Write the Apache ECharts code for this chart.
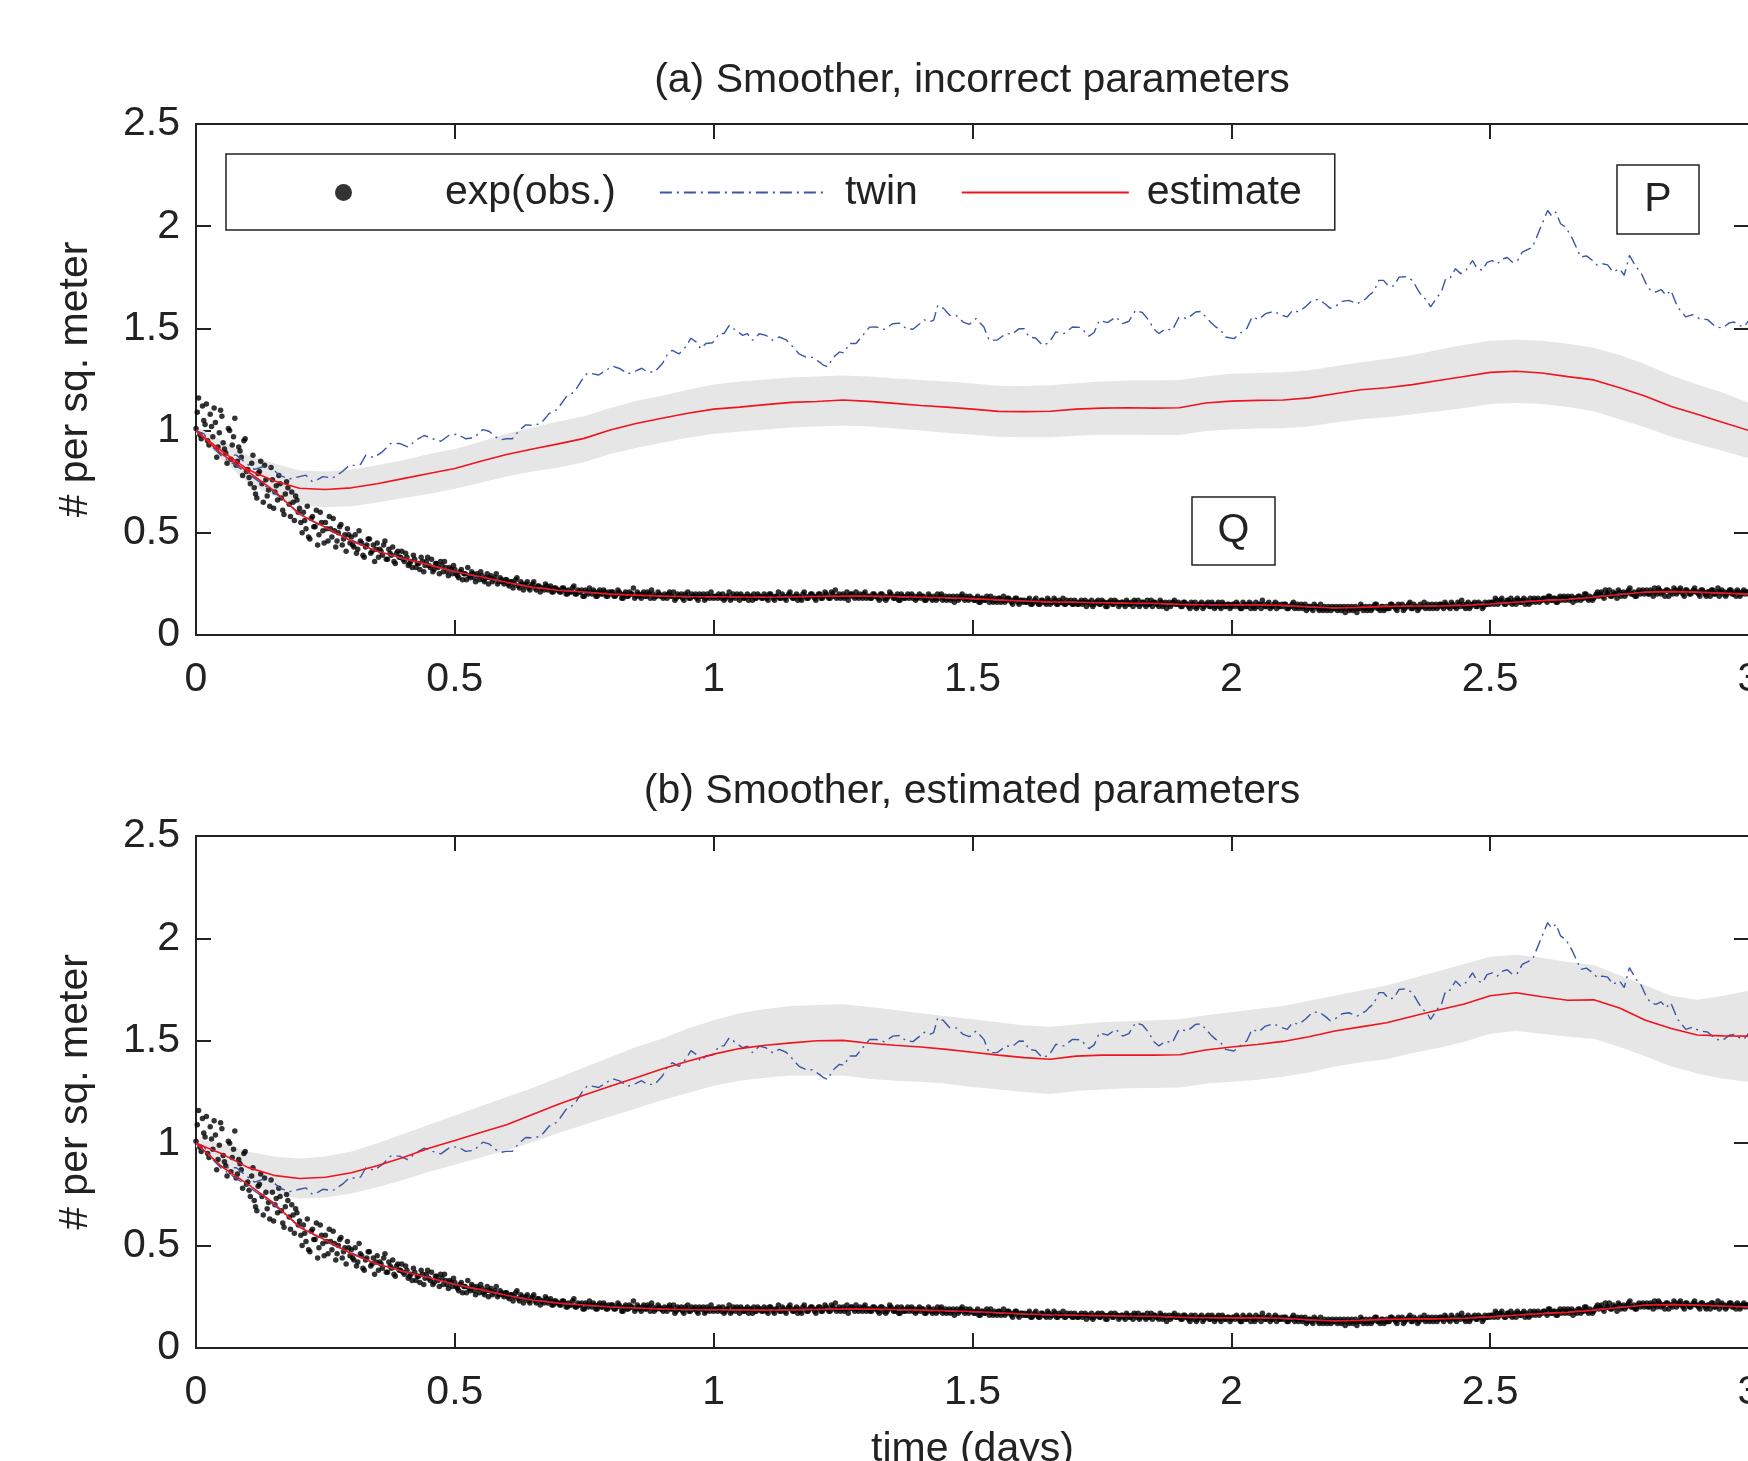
<!DOCTYPE html>
<html><head><meta charset="utf-8">
<script src="https://cdn.jsdelivr.net/npm/echarts@6/dist/echarts.min.js"></script>
<style>html,body{margin:0;padding:0;background:#fff}#c{width:1748px;height:1461px}</style>
</head><body><div id="c"></div>
<script>
// ---------- data ----------
const titleA = '(a) Smoother, incorrect parameters';
const titleB = '(b) Smoother, estimated parameters';
const yName = '# per sq. meter';
const xName = 'time (days)';
const legendNames = ['exp(obs.)', 'twin', 'estimate'];

// observations: obsA at t = i*OBS_DT, obsB at t = (i+0.5)*OBS_DT
const OBS_DT = 0.005;
const obsA = [
1.01,1.16,0.96,1.05,1.13,0.93,1.02,1.11,0.87,0.99,1.07,0.91,0.84,1.00,0.93,1.06,0.85,0.90,0.78,0.96,
0.81,0.74,0.88,0.69,0.79,0.85,0.65,0.76,0.71,0.82,0.62,0.73,0.78,0.67,0.59,0.75,0.64,0.70,0.56,0.66,
0.62,0.50,0.56,0.63,0.47,0.58,0.53,0.44,0.60,0.51,0.55,0.46,0.52,0.57,0.43,0.50,0.54,0.47,0.41,0.49,
0.48,0.43,0.40,0.51,0.45,0.38,0.44,0.47,0.41,0.36,0.45,0.42,0.39,0.46,0.37,0.40,0.43,0.35,0.41,0.38,
0.37,0.40,0.34,0.36,0.39,0.33,0.35,0.38,0.31,0.36,0.34,0.37,0.32,0.35,0.30,0.34,0.36,0.31,0.33,0.30,
0.32,0.29,0.31,0.27,0.30,0.33,0.28,0.30,0.26,0.29,0.31,0.27,0.28,0.25,0.29,0.27,0.30,0.26,0.27,0.25,
0.27,0.24,0.26,0.25,0.28,0.23,0.25,0.24,0.26,0.22,0.25,0.23,0.24,0.21,0.23,0.25,0.22,0.24,0.21,0.23,
0.22,0.21,0.23,0.20,0.22,0.21,0.24,0.20,0.21,0.22,0.19,0.21,0.23,0.20,0.21,0.19,0.22,0.20,0.21,0.19,
0.20,0.21,0.19,0.22,0.20,0.18,0.21,0.19,0.20,0.23,0.19,0.20,0.18,0.21,0.19,0.20,0.22,0.18,0.19,0.20,
0.19,0.20,0.18,0.21,0.19,0.17,0.20,0.19,0.18,0.20,0.21,0.18,0.19,0.20,0.17,0.19,0.20,0.18,0.19,0.21,
0.18,0.19,0.20,0.18,0.17,0.19,0.21,0.18,0.19,0.20,0.17,0.19,0.18,0.20,0.19,0.17,0.18,0.20,0.19,0.18,
0.19,0.17,0.20,0.18,0.19,0.21,0.18,0.19,0.17,0.20,0.19,0.18,0.20,0.19,0.17,0.21,0.18,0.19,0.20,0.18,
0.19,0.20,0.18,0.21,0.19,0.18,0.20,0.22,0.19,0.18,0.20,0.19,0.17,0.20,0.19,0.21,0.18,0.19,0.20,0.18,
0.19,0.18,0.20,0.19,0.17,0.20,0.19,0.18,0.21,0.19,0.18,0.20,0.17,0.19,0.18,0.20,0.19,0.18,0.17,0.19,
0.18,0.19,0.17,0.20,0.18,0.19,0.17,0.18,0.20,0.18,0.17,0.19,0.18,0.16,0.19,0.18,0.20,0.17,0.18,0.19,
0.18,0.17,0.19,0.16,0.18,0.17,0.18,0.19,0.16,0.17,0.18,0.16,0.19,0.17,0.18,0.16,0.17,0.18,0.15,0.17,
0.17,0.16,0.18,0.15,0.17,0.16,0.15,0.17,0.16,0.18,0.15,0.16,0.17,0.15,0.16,0.18,0.15,0.16,0.17,0.15,
0.16,0.15,0.17,0.16,0.14,0.16,0.17,0.15,0.16,0.15,0.17,0.16,0.14,0.16,0.15,0.17,0.16,0.15,0.16,0.14,
0.16,0.15,0.14,0.16,0.17,0.15,0.16,0.14,0.15,0.17,0.16,0.15,0.14,0.16,0.15,0.13,0.16,0.15,0.17,0.15,
0.15,0.14,0.16,0.15,0.13,0.15,0.16,0.14,0.15,0.13,0.15,0.16,0.14,0.15,0.14,0.16,0.13,0.15,0.14,0.15,
0.14,0.15,0.16,0.14,0.13,0.15,0.14,0.16,0.15,0.13,0.14,0.15,0.17,0.14,0.15,0.13,0.14,0.16,0.15,0.14,
0.14,0.15,0.13,0.14,0.16,0.14,0.13,0.15,0.14,0.12,0.14,0.13,0.15,0.14,0.12,0.13,0.14,0.12,0.13,0.14,
0.13,0.12,0.14,0.13,0.11,0.14,0.13,0.12,0.14,0.13,0.15,0.12,0.14,0.13,0.12,0.14,0.15,0.13,0.14,0.12,
0.14,0.13,0.15,0.14,0.12,0.14,0.15,0.13,0.14,0.16,0.13,0.14,0.12,0.15,0.14,0.13,0.15,0.14,0.13,0.15,
0.14,0.15,0.13,0.15,0.14,0.16,0.14,0.13,0.15,0.17,0.14,0.15,0.13,0.15,0.16,0.14,0.15,0.13,0.16,0.15,
0.15,0.16,0.18,0.15,0.17,0.16,0.15,0.17,0.18,0.16,0.15,0.17,0.16,0.18,0.17,0.15,0.16,0.18,0.17,0.16,
0.17,0.18,0.16,0.19,0.17,0.18,0.16,0.19,0.18,0.17,0.19,0.18,0.16,0.18,0.19,0.17,0.18,0.20,0.17,0.18,
0.18,0.20,0.19,0.21,0.18,0.20,0.22,0.19,0.20,0.18,0.21,0.20,0.19,0.21,0.23,0.20,0.19,0.21,0.20,0.22,
0.21,0.20,0.22,0.19,0.21,0.23,0.20,0.21,0.22,0.19,0.21,0.23,0.20,0.22,0.21,0.19,0.22,0.20,0.21,0.23,
0.21,0.19,0.22,0.20,0.21,0.19,0.22,0.20,0.23,0.21,0.20,0.19,0.21,0.22,0.20,0.19,0.21,0.20,0.22,0.21,
0.20];
const obsB = [
1.09,0.98,1.12,1.03,0.95,1.08,0.97,1.04,0.92,1.10,0.94,0.89,1.01,0.86,0.97,0.83,0.92,0.87,0.95,0.80,
0.77,0.84,0.72,0.67,0.80,0.74,0.83,0.68,0.63,0.76,0.70,0.66,0.74,0.61,0.69,0.72,0.58,0.65,0.68,0.60,
0.55,0.60,0.52,0.48,0.57,0.53,0.61,0.49,0.55,0.45,0.52,0.58,0.48,0.51,0.46,0.53,0.44,0.49,0.52,0.45,
0.44,0.49,0.42,0.46,0.39,0.43,0.47,0.40,0.44,0.42,0.38,0.41,0.44,0.37,0.42,0.39,0.36,0.40,0.38,0.41,
0.36,0.38,0.35,0.33,0.37,0.35,0.32,0.36,0.34,0.38,0.33,0.31,0.35,0.33,0.36,0.31,0.33,0.29,0.32,0.34,
0.30,0.28,0.32,0.30,0.27,0.29,0.31,0.28,0.30,0.27,0.29,0.26,0.30,0.28,0.26,0.28,0.25,0.28,0.26,0.27,
0.25,0.26,0.23,0.27,0.24,0.26,0.22,0.25,0.23,0.24,0.26,0.22,0.24,0.23,0.22,0.24,0.23,0.21,0.23,0.22,
0.21,0.23,0.22,0.20,0.21,0.23,0.20,0.22,0.21,0.19,0.22,0.20,0.21,0.22,0.19,0.21,0.20,0.22,0.19,0.21,
0.21,0.19,0.20,0.21,0.18,0.20,0.19,0.21,0.20,0.18,0.21,0.19,0.20,0.19,0.21,0.18,0.20,0.19,0.21,0.19,
0.18,0.19,0.20,0.19,0.21,0.18,0.19,0.20,0.17,0.19,0.18,0.20,0.19,0.18,0.20,0.19,0.17,0.20,0.18,0.19,
0.19,0.18,0.19,0.20,0.18,0.19,0.17,0.20,0.18,0.19,0.20,0.18,0.19,0.17,0.19,0.20,0.18,0.19,0.18,0.20,
0.18,0.20,0.19,0.17,0.19,0.18,0.20,0.18,0.19,0.21,0.18,0.19,0.17,0.18,0.20,0.19,0.18,0.20,0.19,0.17,
0.20,0.18,0.19,0.20,0.18,0.21,0.19,0.18,0.20,0.19,0.18,0.21,0.19,0.20,0.18,0.19,0.20,0.18,0.21,0.19,
0.18,0.20,0.19,0.18,0.20,0.18,0.17,0.19,0.20,0.18,0.19,0.17,0.20,0.18,0.19,0.18,0.20,0.19,0.18,0.20,
0.19,0.17,0.18,0.19,0.17,0.18,0.20,0.19,0.17,0.19,0.18,0.17,0.19,0.18,0.17,0.19,0.18,0.19,0.17,0.18,
0.17,0.18,0.16,0.18,0.17,0.19,0.16,0.17,0.18,0.16,0.18,0.17,0.16,0.18,0.17,0.15,0.18,0.16,0.17,0.16,
0.16,0.17,0.15,0.16,0.18,0.15,0.17,0.16,0.15,0.17,0.16,0.18,0.15,0.17,0.16,0.15,0.17,0.16,0.15,0.17,
0.15,0.16,0.15,0.17,0.16,0.15,0.14,0.16,0.17,0.15,0.16,0.14,0.16,0.17,0.15,0.16,0.14,0.16,0.15,0.17,
0.15,0.16,0.17,0.15,0.14,0.16,0.15,0.17,0.15,0.14,0.16,0.15,0.17,0.14,0.16,0.15,0.14,0.16,0.15,0.16,
0.14,0.16,0.15,0.14,0.16,0.14,0.13,0.15,0.16,0.14,0.15,0.14,0.16,0.13,0.15,0.14,0.16,0.14,0.15,0.13,
0.15,0.14,0.15,0.13,0.16,0.14,0.15,0.13,0.14,0.16,0.15,0.13,0.15,0.14,0.16,0.14,0.15,0.13,0.14,0.15,
0.15,0.13,0.14,0.15,0.13,0.15,0.14,0.13,0.15,0.13,0.14,0.12,0.14,0.13,0.15,0.12,0.13,0.14,0.12,0.13,
0.14,0.13,0.12,0.14,0.13,0.12,0.14,0.13,0.11,0.13,0.14,0.13,0.12,0.14,0.13,0.15,0.13,0.12,0.14,0.13,
0.13,0.15,0.14,0.13,0.15,0.14,0.12,0.14,0.15,0.13,0.15,0.14,0.13,0.14,0.16,0.14,0.13,0.15,0.14,0.13,
0.15,0.14,0.16,0.14,0.13,0.15,0.14,0.16,0.14,0.15,0.13,0.16,0.14,0.15,0.14,0.16,0.15,0.14,0.15,0.16,
0.16,0.15,0.17,0.16,0.18,0.15,0.17,0.16,0.15,0.17,0.18,0.16,0.17,0.15,0.16,0.18,0.17,0.16,0.18,0.17,
0.18,0.17,0.19,0.17,0.18,0.16,0.18,0.17,0.19,0.18,0.17,0.19,0.18,0.17,0.19,0.18,0.20,0.18,0.19,0.17,
0.19,0.21,0.20,0.19,0.22,0.20,0.19,0.21,0.20,0.22,0.19,0.21,0.20,0.22,0.20,0.21,0.19,0.22,0.21,0.20,
0.22,0.20,0.21,0.23,0.20,0.22,0.21,0.19,0.22,0.21,0.20,0.22,0.21,0.23,0.20,0.22,0.21,0.20,0.22,0.21,
0.20,0.22,0.21,0.19,0.21,0.22,0.20,0.21,0.19,0.22,0.21,0.20,0.22,0.20,0.21,0.22,0.19,0.21,0.20,0.21];

// smooth curves sampled every EST_DT days from 0 to 3
const EST_DT = 0.05;
const estPa = [1.0,0.90,0.81,0.755,0.718,0.712,0.72,0.74,0.765,0.79,0.815,0.85,0.883,0.91,0.935,0.962,1.003,1.035,1.06,1.085,
1.105,1.115,1.127,1.138,1.142,1.15,1.143,1.133,1.123,1.115,1.105,1.094,1.093,1.095,1.105,1.11,1.112,1.11,1.112,1.135,
1.144,1.148,1.15,1.16,1.18,1.2,1.21,1.225,1.245,1.265,1.285,1.29,1.282,1.264,1.248,1.21,1.168,1.118,1.08,1.04,1.0];
const hiPa = [1.02,0.95,0.88,0.84,0.805,0.80,0.81,0.83,0.855,0.885,0.91,0.945,0.985,1.015,1.045,1.07,1.11,1.145,1.17,1.2,
1.225,1.24,1.25,1.26,1.265,1.27,1.265,1.255,1.248,1.24,1.23,1.22,1.218,1.222,1.232,1.24,1.245,1.245,1.248,1.265,
1.278,1.282,1.285,1.295,1.315,1.335,1.35,1.37,1.395,1.42,1.44,1.445,1.44,1.425,1.405,1.37,1.325,1.27,1.225,1.185,1.135];
const loPa = [0.98,0.86,0.745,0.68,0.635,0.625,0.63,0.648,0.67,0.69,0.715,0.745,0.775,0.8,0.82,0.845,0.885,0.915,0.94,0.965,
0.985,0.995,1.005,1.015,1.02,1.025,1.02,1.01,1.0,0.99,0.98,0.97,0.968,0.968,0.975,0.98,0.98,0.978,0.978,0.998,
1.005,1.01,1.012,1.02,1.04,1.055,1.065,1.08,1.095,1.11,1.13,1.135,1.13,1.115,1.095,1.055,1.015,0.97,0.935,0.9,0.865];
const estPb = [1.0,0.948,0.882,0.843,0.828,0.834,0.856,0.89,0.93,0.975,1.013,1.052,1.09,1.14,1.19,1.235,1.278,1.32,1.362,1.4,
1.435,1.462,1.478,1.49,1.5,1.502,1.488,1.478,1.47,1.458,1.444,1.43,1.418,1.41,1.425,1.43,1.43,1.43,1.432,1.455,
1.47,1.482,1.497,1.52,1.548,1.568,1.588,1.62,1.65,1.68,1.72,1.735,1.715,1.698,1.7,1.66,1.6,1.56,1.528,1.524,1.523];
const hiPb = [1.02,1.0,0.96,0.935,0.925,0.935,0.96,1.0,1.045,1.09,1.135,1.18,1.225,1.27,1.32,1.37,1.42,1.47,1.51,1.56,
1.6,1.635,1.655,1.67,1.675,1.678,1.665,1.65,1.635,1.62,1.605,1.59,1.575,1.568,1.58,1.59,1.595,1.6,1.605,1.625,
1.64,1.655,1.67,1.695,1.72,1.745,1.77,1.805,1.84,1.875,1.91,1.92,1.905,1.885,1.87,1.82,1.77,1.72,1.7,1.72,1.745];
const loPb = [0.98,0.89,0.8,0.755,0.73,0.735,0.755,0.785,0.82,0.86,0.895,0.93,0.965,1.005,1.05,1.09,1.13,1.17,1.21,1.245,
1.28,1.305,1.32,1.33,1.33,1.33,1.315,1.305,1.3,1.29,1.275,1.262,1.25,1.24,1.255,1.262,1.268,1.27,1.272,1.29,
1.3,1.31,1.325,1.345,1.375,1.395,1.41,1.44,1.465,1.495,1.535,1.548,1.535,1.52,1.51,1.47,1.425,1.375,1.34,1.315,1.3];
const estQ = [1.0,0.885,0.80,0.708,0.59,0.527,0.46,0.41,0.375,0.343,0.311,0.285,0.258,0.233,0.219,0.21,0.2,0.195,0.19,0.188,
0.187,0.186,0.185,0.186,0.188,0.19,0.19,0.188,0.185,0.182,0.178,0.172,0.166,0.162,0.16,0.158,0.156,0.155,0.15,0.148,
0.147,0.148,0.145,0.138,0.132,0.135,0.14,0.142,0.142,0.145,0.152,0.16,0.168,0.174,0.185,0.198,0.21,0.212,0.21,0.205,0.2];
const twinQ = [1.0,0.875,0.79,0.70,0.595,0.52,0.465,0.41,0.372,0.345,0.308,0.283,0.256,0.236,0.22,0.208,0.2,0.194,0.19,0.186,
0.186,0.184,0.186,0.187,0.19,0.191,0.189,0.186,0.184,0.18,0.176,0.17,0.166,0.16,0.16,0.157,0.155,0.153,0.15,0.147,
0.148,0.146,0.143,0.137,0.133,0.136,0.141,0.141,0.143,0.147,0.153,0.161,0.17,0.176,0.187,0.2,0.208,0.213,0.208,0.204,0.2];

// twin P trajectory (jagged): [time, value]
const twinPts = [[0,1.0],[0.015,0.985],[0.03,0.93],[0.045,0.89],[0.06,0.88],[0.078,0.88],[0.097,0.84],[0.113,0.81],[0.129,0.823],[0.145,0.82],
[0.161,0.782],[0.18,0.763],[0.2,0.775],[0.212,0.782],[0.225,0.75],[0.235,0.76],[0.245,0.775],[0.264,0.768],[0.283,0.80],[0.296,0.83],
[0.309,0.83],[0.318,0.835],[0.328,0.88],[0.344,0.868],[0.36,0.896],[0.376,0.937],[0.393,0.937],[0.409,0.92],[0.425,0.953],[0.441,0.976],
[0.457,0.96],[0.473,0.948],[0.489,0.977],[0.505,0.983],[0.521,0.96],[0.537,0.965],[0.554,1.005],[0.566,0.997],[0.579,0.969],[0.589,0.955],
[0.599,0.96],[0.611,0.96],[0.624,1.0],[0.637,1.028],[0.65,1.026],[0.666,1.034],[0.682,1.083],[0.698,1.104],[0.715,1.165],[0.731,1.19],
[0.747,1.254],[0.756,1.281],[0.765,1.279],[0.778,1.272],[0.792,1.295],[0.805,1.315],[0.818,1.304],[0.834,1.278],[0.85,1.292],[0.861,1.305],
[0.872,1.287],[0.886,1.287],[0.901,1.328],[0.91,1.37],[0.92,1.393],[0.933,1.375],[0.946,1.41],[0.956,1.452],[0.966,1.434],[0.975,1.40],
[0.985,1.426],[0.998,1.43],[1.011,1.475],[1.02,1.475],[1.03,1.515],[1.043,1.49],[1.056,1.466],[1.065,1.474],[1.075,1.442],[1.088,1.474],
[1.101,1.466],[1.114,1.442],[1.127,1.458],[1.14,1.444],[1.153,1.41],[1.165,1.375],[1.178,1.36],[1.191,1.358],[1.204,1.336],[1.212,1.32],
[1.22,1.312],[1.231,1.358],[1.243,1.385],[1.252,1.38],[1.262,1.426],[1.275,1.426],[1.288,1.466],[1.301,1.506],[1.314,1.507],[1.33,1.495],
[1.346,1.523],[1.359,1.526],[1.372,1.499],[1.385,1.496],[1.398,1.523],[1.407,1.542],[1.417,1.531],[1.425,1.54],[1.433,1.613],[1.444,1.598],
[1.456,1.564],[1.469,1.563],[1.482,1.531],[1.494,1.52],[1.507,1.548],[1.513,1.531],[1.522,1.507],[1.532,1.442],[1.548,1.443],[1.565,1.475],
[1.577,1.472],[1.59,1.499],[1.6,1.498],[1.609,1.458],[1.622,1.453],[1.635,1.418],[1.648,1.43],[1.661,1.483],[1.677,1.475],[1.693,1.507],
[1.709,1.505],[1.725,1.462],[1.735,1.48],[1.745,1.539],[1.761,1.528],[1.777,1.556],[1.79,1.523],[1.802,1.535],[1.815,1.588],[1.828,1.578],
[1.841,1.539],[1.85,1.497],[1.86,1.475],[1.873,1.498],[1.886,1.491],[1.899,1.556],[1.915,1.548],[1.931,1.58],[1.941,1.583],[1.951,1.556],
[1.96,1.53],[1.97,1.507],[1.979,1.493],[1.989,1.458],[2.005,1.45],[2.021,1.483],[2.03,1.50],[2.04,1.556],[2.053,1.544],[2.066,1.572],
[2.082,1.583],[2.098,1.564],[2.108,1.556],[2.118,1.588],[2.13,1.581],[2.143,1.605],[2.156,1.637],[2.169,1.642],[2.182,1.618],[2.191,1.598],
[2.201,1.608],[2.214,1.632],[2.227,1.637],[2.243,1.621],[2.26,1.645],[2.266,1.662],[2.275,1.68],[2.285,1.735],[2.294,1.735],[2.304,1.706],
[2.314,1.708],[2.324,1.751],[2.337,1.753],[2.35,1.735],[2.359,1.695],[2.369,1.654],[2.377,1.64],[2.385,1.605],[2.398,1.654],[2.406,1.68],
[2.414,1.743],[2.423,1.748],[2.433,1.792],[2.443,1.768],[2.453,1.784],[2.466,1.832],[2.475,1.793],[2.485,1.784],[2.494,1.823],[2.504,1.832],
[2.514,1.816],[2.524,1.84],[2.533,1.847],[2.543,1.824],[2.552,1.828],[2.562,1.873],[2.572,1.885],[2.582,1.898],[2.595,1.979],[2.611,2.077],
[2.619,2.05],[2.627,2.069],[2.636,2.012],[2.646,1.995],[2.659,1.938],[2.675,1.849],[2.686,1.855],[2.698,1.832],[2.707,1.809],[2.717,1.816],
[2.727,1.811],[2.737,1.776],[2.75,1.792],[2.759,1.76],[2.769,1.857],[2.782,1.8],[2.791,1.775],[2.801,1.719],[2.81,1.685],[2.82,1.678],
[2.83,1.69],[2.84,1.662],[2.849,1.686],[2.862,1.605],[2.87,1.58],[2.878,1.556],[2.891,1.567],[2.904,1.548],[2.92,1.543],[2.936,1.507],
[2.949,1.502],[2.962,1.527],[2.971,1.531],[2.981,1.515],[2.99,1.507],[3.0,1.539]];

// ---------- chart ----------
const FONT = "'Liberation Sans', Arial, Helvetica, sans-serif";
const INK = '#222';
const RED = '#f0141e';
const BLUE = '#3a56a5';
const GREY = '#e6e6e6';

const estT = estPa.map((_, i) => +(i * EST_DT).toFixed(3));
const pairs = (ts, vs) => ts.map((t, i) => [t, vs[i]]);
const obsData = obsA.map((v, i) => [+(i * OBS_DT).toFixed(4), v])
  .concat(obsB.map((v, i) => [+((i + 0.5) * OBS_DT).toFixed(4), v]));

const grids = [
  { left: 196, top: 124, width: 1553, height: 511, outerBoundsMode: 'none', containLabel: false },
  { left: 196, top: 836, width: 1553, height: 512, outerBoundsMode: 'none', containLabel: false }
];

function xAxes(gi, withName) {
  const base = {
    gridIndex: gi, type: 'value', min: 0, max: 3, interval: 0.5,
    axisLine: { show: true, onZero: false, lineStyle: { color: INK, width: 2 } },
    axisTick: { show: true, inside: true, length: 15, lineStyle: { color: INK, width: 2 } },
    splitLine: { show: false }
  };
  return [
    Object.assign({}, base, {
      position: 'bottom',
      axisLabel: { show: true, margin: 24, fontSize: 41, fontFamily: FONT, color: INK, hideOverlap: false },
      name: withName ? xName : '', nameLocation: 'middle', nameGap: 81,
      nameTextStyle: { fontSize: 41, fontFamily: FONT, color: INK }
    }),
    Object.assign({}, base, { position: 'top', axisLabel: { show: false } })
  ];
}
function yAxes(gi) {
  const base = {
    gridIndex: gi, type: 'value', min: 0, max: 2.5, interval: 0.5,
    axisLine: { show: true, onZero: false, lineStyle: { color: INK, width: 2 } },
    axisTick: { show: true, inside: true, length: 15, lineStyle: { color: INK, width: 2 } },
    splitLine: { show: false }
  };
  return [
    Object.assign({}, base, {
      position: 'left',
      axisLabel: { show: true, margin: 16, fontSize: 41, fontFamily: FONT, color: INK },
      name: yName, nameLocation: 'middle', nameGap: 100, nameRotate: 90,
      nameTextStyle: { fontSize: 41, fontFamily: FONT, color: INK }
    }),
    Object.assign({}, base, { position: 'right', axisLabel: { show: false } })
  ];
}

function band(ai, lo, hi) {
  return {
    type: 'custom', name: 'band', xAxisIndex: ai, yAxisIndex: ai, z: 1, silent: true, clip: true,
    data: [[estT[0], lo[0]]],
    renderItem: (params, api) => {
      const pts = [];
      for (let i = 0; i < estT.length; i++) pts.push(api.coord([estT[i], hi[i]]));
      for (let i = estT.length - 1; i >= 0; i--) pts.push(api.coord([estT[i], lo[i]]));
      return { type: 'polygon', shape: { points: pts }, style: { fill: GREY, stroke: null } };
    }
  };
}
function lineS(name, ai, data, color, dash, width, z) {
  return {
    type: 'line', name, xAxisIndex: ai, yAxisIndex: ai, data, z,
    symbol: 'none', showSymbol: false, smooth: false, sampling: null, silent: true,
    itemStyle: { color },
    lineStyle: { color, width, type: dash || 'solid' }
  };
}
const twinDash = [12, 5, 2, 5];

function panelSeries(ai, estP, lo, hi) {
  return [
    band(ai, lo, hi),
    { type: 'scatter', name: 'exp(obs.)', xAxisIndex: ai, yAxisIndex: ai, z: 3, silent: true,
      symbol: 'circle', symbolSize: 5.5, itemStyle: { color: '#000' }, data: obsData },
    lineS('twin', ai, twinPts, BLUE, twinDash, 1.4, 4),
    lineS('twin', ai, pairs(estT, twinQ), BLUE, twinDash, 1.4, 4),
    lineS('estimate', ai, pairs(estT, estP), RED, null, 1.6, 5),
    lineS('estimate', ai, pairs(estT, estQ), RED, null, 1.6, 5)
  ];
}

const chart = echarts.init(document.getElementById('c'), null, { renderer: 'canvas' });
chart.setOption({
  animation: false,
  backgroundColor: '#fff',
  grid: grids,
  xAxis: [...xAxes(0, false), ...xAxes(1, true)],
  yAxis: [...yAxes(0), ...yAxes(1)],
  legend: {
    data: [
      { name: legendNames[0], icon: 'circle', itemStyle: { color: '#000' } },
      { name: legendNames[1], itemStyle: { opacity: 0 } },
      { name: legendNames[2], itemStyle: { opacity: 0 } }
    ],
    left: 226, top: 154, orient: 'horizontal',
    itemWidth: 167, itemHeight: 17, itemGap: 43, selectedMode: false, symbolKeepAspect: true,
    padding: [18, 33, 17, 109], borderColor: INK, borderWidth: 1.5, backgroundColor: '#fff',
    formatter: n => '{t|' + n + '}',
    textStyle: { color: INK, fontSize: 41, fontFamily: FONT,
      rich: { t: { fontSize: 41, fontFamily: FONT, color: INK, padding: [0, 0, 0, 13], lineHeight: 48 } } }
  },
  graphic: [
    { type: 'text', x: 972, y: 81, style: { text: titleA, font: '41px ' + FONT, fill: INK, align: 'center', verticalAlign: 'middle' } },
    { type: 'text', x: 972, y: 792, style: { text: titleB, font: '41px ' + FONT, fill: INK, align: 'center', verticalAlign: 'middle' } },
    { type: 'rect', shape: { x: 1617, y: 165, width: 82, height: 69 }, style: { fill: '#fff', stroke: INK, lineWidth: 1.5 }, z: 10 },
    { type: 'text', x: 1658, y: 200, style: { text: 'P', font: '41px ' + FONT, fill: INK, align: 'center', verticalAlign: 'middle' }, z: 11 },
    { type: 'rect', shape: { x: 1192, y: 497, width: 83, height: 68 }, style: { fill: '#fff', stroke: INK, lineWidth: 1.5 }, z: 10 },
    { type: 'text', x: 1233.5, y: 531, style: { text: 'Q', font: '41px ' + FONT, fill: INK, align: 'center', verticalAlign: 'middle' }, z: 11 }
  ],
  series: [
    ...panelSeries(0, estPa, loPa, hiPa),
    ...panelSeries(2, estPb, loPb, hiPb)
  ]
});
</script>
</body></html>
